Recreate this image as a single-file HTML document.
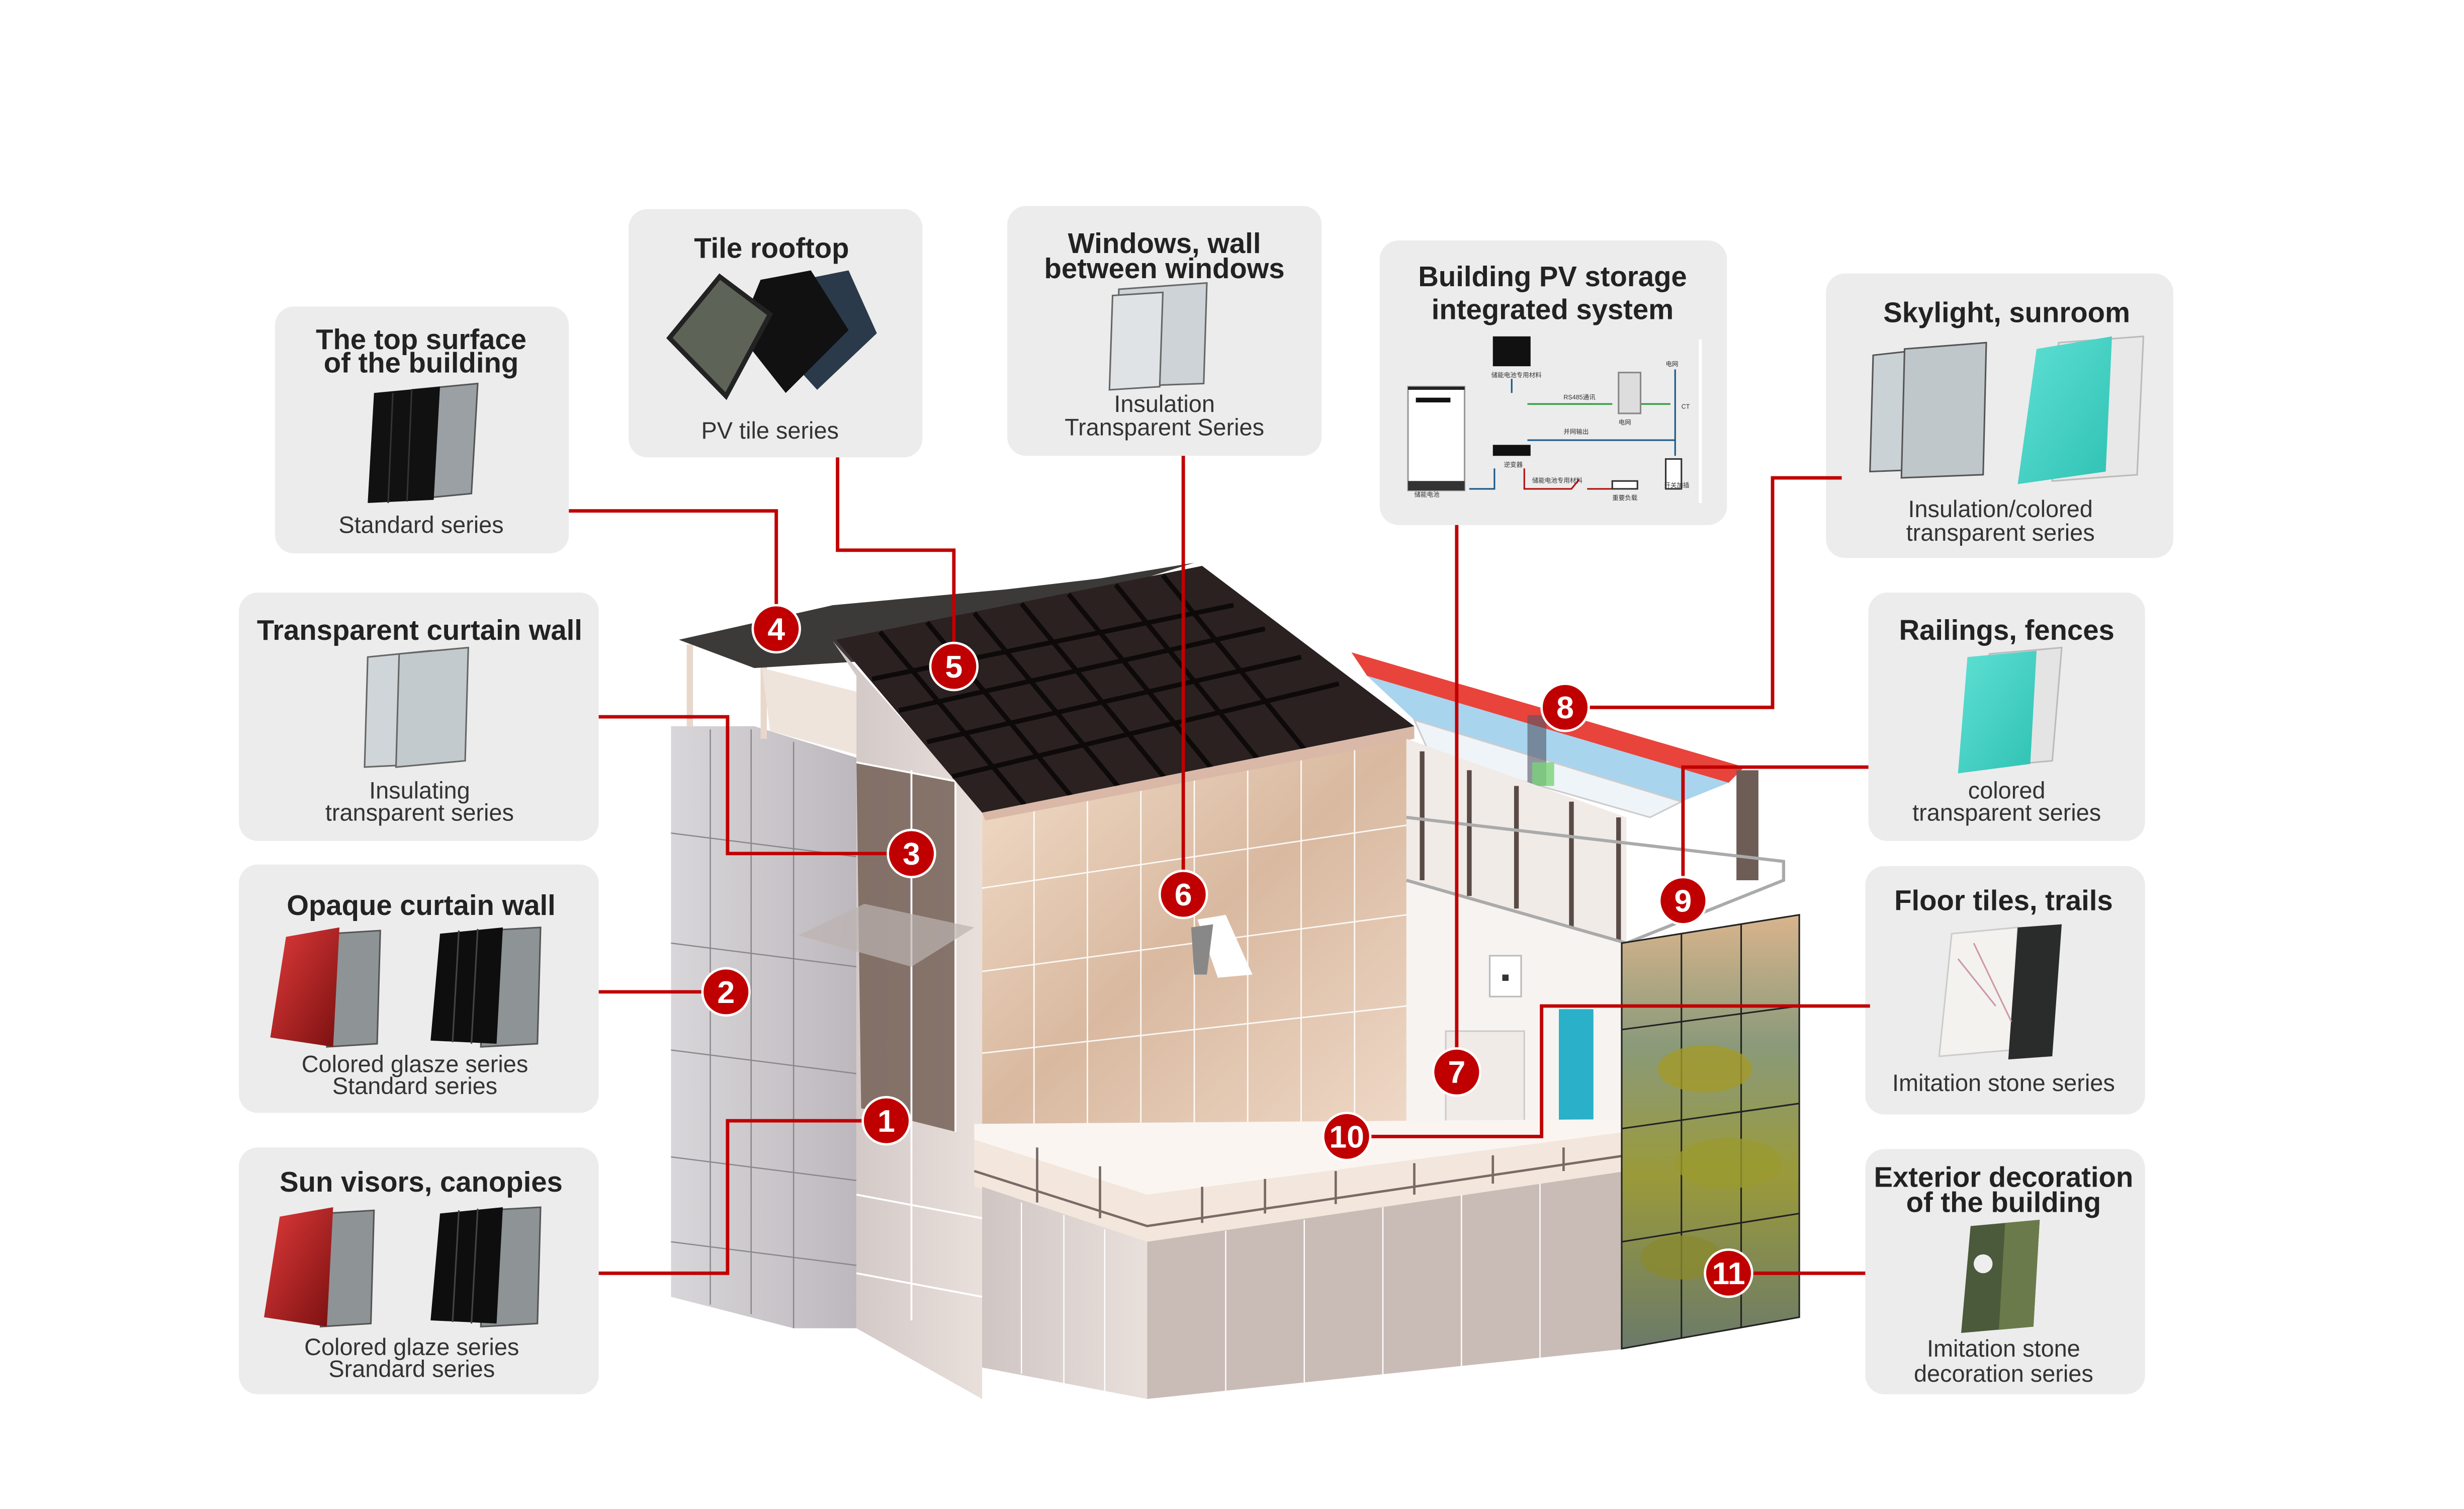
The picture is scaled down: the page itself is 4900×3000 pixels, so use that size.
<!DOCTYPE html>
<html><head><meta charset="utf-8"><style>
html,body{margin:0;padding:0;background:#fff;}
svg{display:block;}
text{font-family:"Liberation Sans","Noto Sans CJK SC",sans-serif;}
</style></head><body>
<svg width="4900" height="3000" viewBox="0 0 1568 960" xmlns="http://www.w3.org/2000/svg">
<defs>
<linearGradient id="wall" x1="0" y1="0" x2="1" y2="1"><stop offset="0" stop-color="#f2ddc9"/><stop offset="0.5" stop-color="#d9b9a0"/><stop offset="1" stop-color="#eed8c6"/></linearGradient>
<linearGradient id="tower" x1="0" y1="0" x2="1" y2="0"><stop offset="0" stop-color="#d8d6d9"/><stop offset="1" stop-color="#bdb8bd"/></linearGradient>
<linearGradient id="glass" x1="0" y1="0" x2="1" y2="0"><stop offset="0" stop-color="#cfc5c3"/><stop offset="1" stop-color="#e9dfdb"/></linearGradient>
<linearGradient id="red" x1="0" y1="0" x2="1" y2="1"><stop offset="0" stop-color="#e03a3a"/><stop offset="1" stop-color="#7a1010"/></linearGradient>
<linearGradient id="teal" x1="0" y1="0" x2="1" y2="1"><stop offset="0" stop-color="#5fe0d4"/><stop offset="1" stop-color="#2fc2b4"/></linearGradient>
<linearGradient id="paint" x1="0" y1="0" x2="0" y2="1"><stop offset="0" stop-color="#d9b48c"/><stop offset="0.3" stop-color="#8a9a7a"/><stop offset="0.6" stop-color="#9a9a3a"/><stop offset="1" stop-color="#6b7a6a"/></linearGradient>
</defs>

<!-- BOXES -->
<g fill="#ececec">
<rect x="175" y="195" width="187" height="157" rx="12"/>
<rect x="400" y="133" width="187" height="158" rx="12"/>
<rect x="641" y="131" width="200" height="159" rx="12"/>
<rect x="878" y="153" width="221" height="181" rx="12"/>
<rect x="1162" y="174" width="221" height="181" rx="12"/>
<rect x="152" y="377" width="229" height="158" rx="12"/>
<rect x="152" y="550" width="229" height="158" rx="12"/>
<rect x="152" y="730" width="229" height="157" rx="12"/>
<rect x="1189" y="377" width="176" height="158" rx="12"/>
<rect x="1187" y="551" width="178" height="158" rx="12"/>
<rect x="1187" y="731" width="178" height="156" rx="12"/>
</g>

<g fill="#222" font-size="18" font-weight="bold" text-anchor="middle">
<text x="268" y="222">The top surface</text>
<text x="268" y="237">of the building</text>
<text x="491" y="164">Tile rooftop</text>
<text x="741" y="161">Windows, wall</text>
<text x="741" y="177">between windows</text>
<text x="988" y="182">Building PV storage</text>
<text x="988" y="203">integrated system</text>
<text x="1277" y="205">Skylight, sunroom</text>
<text x="267" y="407">Transparent curtain wall</text>
<text x="268" y="582">Opaque curtain wall</text>
<text x="268" y="758">Sun visors, canopies</text>
<text x="1277" y="407">Railings, fences</text>
<text x="1275" y="579">Floor tiles, trails</text>
<text x="1275" y="755">Exterior decoration</text>
<text x="1275" y="771">of the building</text>
</g>
<g fill="#333" font-size="15" text-anchor="middle">
<text x="268" y="339">Standard series</text>
<text x="490" y="279">PV tile series</text>
<text x="741" y="262">Insulation</text>
<text x="741" y="277">Transparent Series</text>
<text x="1273" y="329">Insulation/colored</text>
<text x="1273" y="344">transparent series</text>
<text x="267" y="508">Insulating</text>
<text x="267" y="522">transparent series</text>
<text x="264" y="682">Colored glasze series</text>
<text x="264" y="696">Standard series</text>
<text x="262" y="862">Colored glaze series</text>
<text x="262" y="876">Srandard series</text>
<text x="1277" y="508">colored</text>
<text x="1277" y="522">transparent series</text>
<text x="1275" y="694">Imitation stone series</text>
<text x="1275" y="863">Imitation stone</text>
<text x="1275" y="879">decoration series</text>
</g>

<!-- thumbnails -->
<!-- top surface: black panels -->
<g>
<polygon points="262,248 304,244 300,314 258,318" fill="#9aa0a4" stroke="#555"/>
<polygon points="238,250 280,246 276,318 234,320" fill="#111"/>
<line x1="250" y1="250" x2="247" y2="320" stroke="#333"/><line x1="262" y1="248" x2="259" y2="319" stroke="#333"/>
</g>
<!-- tile rooftop -->
<g>
<polygon points="500,180 540,172 558,212 520,248 500,226" fill="#2a3a4a"/>
<polygon points="484,178 516,172 540,210 500,250 470,212" fill="#111"/>
<polygon points="458,176 490,200 462,252 426,215" fill="#5e6358" stroke="#222" stroke-width="3"/>
</g>
<!-- windows glass -->
<g fill="#cdd3d6" stroke="#666">
<polygon points="712,184 768,180 766,244 710,246"/>
<polygon points="708,188 740,186 738,246 706,248" fill="#dfe3e5"/>
</g>
<!-- PV storage diagram -->
<g font-size="4" fill="#333">
<rect x="896" y="246" width="36" height="66" fill="#fff" stroke="#999"/>
<rect x="896" y="246" width="36" height="2" fill="#222"/>
<rect x="901" y="253" width="22" height="3" fill="#111"/>
<rect x="896" y="306" width="36" height="6" fill="#333"/>
<rect x="950" y="214" width="24" height="19" fill="#111"/>
<rect x="950" y="283" width="24" height="7" fill="#111"/>
<line x1="962" y1="241" x2="962" y2="250" stroke="#1a5a8a"/>
<line x1="972" y1="257" x2="1026" y2="257" stroke="#2a9a3a"/>
<line x1="1040" y1="257" x2="1063" y2="257" stroke="#2a9a3a"/>
<line x1="972" y1="280" x2="1066" y2="280" stroke="#1a5a8a"/>
<line x1="1066" y1="235" x2="1066" y2="290" stroke="#1a5a8a"/>
<polyline points="935,311 951,311 951,298" fill="none" stroke="#1a5a8a"/>
<polyline points="970,298 970,311 1000,311 1005,305" fill="none" stroke="#b01010"/>
<line x1="1010" y1="311" x2="1026" y2="311" stroke="#b01010"/>
<rect x="1030" y="237" width="14" height="26" fill="#ddd" stroke="#888"/>
<rect x="1060" y="292" width="10" height="19" fill="#fff" stroke="#333"/>
<rect x="1026" y="306" width="16" height="5" fill="#fff" stroke="#333"/>
<line x1="1082" y1="216" x2="1082" y2="320" stroke="#fff" stroke-width="2"/>
<text x="949" y="240">储能电池专用材料</text>
<text x="995" y="254">RS485通讯</text>
<text x="995" y="276">并网输出</text>
<text x="957" y="297">逆变器</text>
<text x="1030" y="270">电网</text>
<text x="1060" y="233">电网</text>
<text x="975" y="307">储能电池专用材料</text>
<text x="900" y="316">储能电池</text>
<text x="1026" y="318">重要负载</text>
<text x="1059" y="310">开关加插</text>
<text x="1070" y="260">CT</text>
</g>
<!-- skylight -->
<g>
<polygon points="1192,226 1246,220 1244,298 1190,300" fill="#cbd2d5" stroke="#555"/>
<polygon points="1212,222 1264,218 1262,302 1210,304" fill="#bfc7ca" stroke="#555"/>
<polygon points="1310,218 1364,214 1360,302 1306,306" fill="#e8e8e8" stroke="#bbb"/>
<polygon points="1296,222 1344,214 1340,300 1284,308" fill="url(#teal)"/>
</g>
<!-- transparent curtain wall -->
<g stroke="#666">
<polygon points="234,418 274,414 272,486 232,488" fill="#cfd5d8"/>
<polygon points="254,416 298,412 296,484 252,488" fill="#c3cacd"/>
</g>
<!-- opaque curtain wall -->
<g>
<polygon points="210,594 242,592 240,664 208,666" fill="#8e9396" stroke="#555"/>
<polygon points="182,596 216,590 212,666 172,660" fill="url(#red)"/>
<polygon points="308,592 344,590 342,664 306,666" fill="#8e9396" stroke="#555"/>
<polygon points="280,594 320,590 316,664 274,662" fill="#0e0e0e"/>
<line x1="292" y1="592" x2="288" y2="663" stroke="#444"/><line x1="304" y1="591" x2="300" y2="664" stroke="#444"/>
</g>
<!-- sun visors -->
<g>
<polygon points="206,772 238,770 236,842 204,844" fill="#8e9396" stroke="#555"/>
<polygon points="178,774 212,768 208,844 168,838" fill="url(#red)"/>
<polygon points="308,770 344,768 342,842 306,844" fill="#8e9396" stroke="#555"/>
<polygon points="280,772 320,768 316,842 274,840" fill="#0e0e0e"/>
<line x1="292" y1="770" x2="288" y2="841" stroke="#444"/><line x1="304" y1="769" x2="300" y2="842" stroke="#444"/>
</g>
<!-- railings -->
<g>
<polygon points="1266,416 1312,412 1306,484 1262,488" fill="#e4e4e4" stroke="#bbb"/>
<polygon points="1252,418 1296,414 1292,486 1246,492" fill="url(#teal)"/>
</g>
<!-- floor tiles -->
<g>
<polygon points="1242,594 1284,590 1280,668 1234,672" fill="#f4f2ee" stroke="#ccc"/>
<polygon points="1284,590 1312,588 1306,672 1278,674" fill="#2a2c2c"/>
<path d="M1246,610 L1270,640 M1256,600 L1280,650" stroke="#c9a" fill="none"/>
</g>
<!-- exterior decoration -->
<g>
<polygon points="1254,780 1298,776 1294,844 1248,848" fill="#4a5a3a"/>
<polygon points="1276,778 1298,776 1294,844 1272,846" fill="#6a7a4a"/>
<circle cx="1262" cy="804" r="6" fill="#eee"/>
</g>

<!-- BUILDING -->
<!-- left tower -->
<polygon points="427,462 480,462 545,482 545,845 505,845 427,825" fill="url(#tower)"/>
<g stroke="#8a888c" stroke-width="0.8" fill="none">
<line x1="452" y1="464" x2="452" y2="830"/><line x1="478" y1="464" x2="478" y2="836"/><line x1="505" y1="472" x2="505" y2="845"/>
<line x1="427" y1="530" x2="545" y2="545"/><line x1="427" y1="600" x2="545" y2="615"/><line x1="427" y1="668" x2="545" y2="683"/><line x1="427" y1="736" x2="545" y2="751"/><line x1="427" y1="790" x2="545" y2="805"/>
</g>
<!-- posts and overhang -->
<rect x="437" y="410" width="4" height="52" fill="#e8d8cc"/>
<rect x="484" y="415" width="4" height="55" fill="#e8d8cc"/>
<polygon points="432,407 530,385 640,375 700,368 760,358 560,420 480,425" fill="#3c3a38"/>
<polygon points="485,425 545,440 545,480 490,465" fill="#efe4dc"/>
<!-- left gable wall glass -->
<polygon points="530,408 625,515 625,890 545,845 545,430" fill="url(#glass)"/>
<polygon points="545,485 608,497 608,720 548,705" fill="#6e5a50" opacity="0.8"/>
<g stroke="#fff" stroke-width="1.2" fill="none">
<polyline points="545,485 608,497 608,720"/>
<line x1="580" y1="490" x2="580" y2="840"/>
<line x1="545" y1="760" x2="625" y2="775"/><line x1="545" y1="810" x2="625" y2="825"/>
</g>
<polygon points="508,595 550,575 620,590 580,615" fill="#bcb3b0" opacity="0.7"/>
<!-- front wall -->
<polygon points="625,515 895,470 895,715 625,715" fill="url(#wall)"/>
<g stroke="#fff" stroke-width="0.9" fill="none" opacity="0.9">
<line x1="658" y1="510" x2="658" y2="715"/><line x1="692" y1="505" x2="692" y2="715"/><line x1="726" y1="499" x2="726" y2="715"/><line x1="760" y1="493" x2="760" y2="715"/><line x1="794" y1="487" x2="794" y2="715"/><line x1="828" y1="481" x2="828" y2="715"/><line x1="862" y1="476" x2="862" y2="715"/>
<line x1="625" y1="565" x2="895" y2="525"/><line x1="625" y1="618" x2="895" y2="582"/><line x1="625" y1="670" x2="895" y2="640"/>
</g>
<polygon points="762,585 780,582 797,620 775,622" fill="#fff"/>
<polygon points="758,590 772,588 768,620 760,620" fill="#888"/>
<!-- main roof -->
<polygon points="532,407 765,360 900,462 625,517" fill="#2a2120"/>
<g stroke="#0e0a0a" stroke-width="3" fill="none">
<line x1="560" y1="402" x2="652" y2="512"/><line x1="590" y1="396" x2="682" y2="507"/><line x1="620" y1="390" x2="712" y2="501"/><line x1="650" y1="384" x2="742" y2="496"/><line x1="680" y1="378" x2="772" y2="490"/><line x1="710" y1="372" x2="802" y2="485"/><line x1="740" y1="366" x2="832" y2="479"/>
<line x1="555" y1="432" x2="785" y2="385"/><line x1="572" y1="452" x2="805" y2="400"/><line x1="590" y1="472" x2="828" y2="418"/><line x1="606" y1="494" x2="852" y2="435"/>
</g>
<polygon points="625,517 900,462 900,470 627,522" fill="#d9b8a8"/>
<!-- skylight strip -->
<polygon points="860,415 1110,488 1100,498 870,430" fill="#e8443c"/>
<polygon points="870,430 1100,498 1070,510 900,458" fill="#a8d4ee"/>
<polygon points="900,458 1070,510 1050,520 910,480" fill="#eef4f8" stroke="#ccc"/>
<rect x="972" y="455" width="12" height="45" fill="#556" opacity="0.6"/>
<rect x="975" y="485" width="14" height="15" fill="#7ad27a" opacity="0.8"/>
<!-- right room -->
<polygon points="895,470 1035,520 1035,720 895,715" fill="#f1ebe7"/>
<polygon points="895,560 1035,600 1035,720 895,715" fill="#f7f3f0"/>
<g stroke="#5a4a46" stroke-width="3">
<line x1="905" y1="478" x2="905" y2="560"/><line x1="935" y1="490" x2="935" y2="570"/><line x1="965" y1="500" x2="965" y2="578"/><line x1="1000" y1="510" x2="1000" y2="590"/><line x1="1030" y1="520" x2="1030" y2="598"/>
</g>
<rect x="1105" y="490" width="14" height="70" fill="#6e5c56"/>
<polyline points="895,520 1135,548 1135,560 1035,600 895,560" fill="none" stroke="#aaa" stroke-width="2"/>
<rect x="948" y="608" width="20" height="26" fill="#fff" stroke="#bbb"/>
<rect x="956" y="620" width="4" height="4" fill="#333"/>
<rect x="920" y="656" width="50" height="62" fill="#f0ebe6" stroke="#ccc"/>
<rect x="992" y="642" width="22" height="100" fill="#2ab0c8"/>
<!-- balcony -->
<polygon points="620,715 1035,712 1035,745 730,790 620,755" fill="#f3e6dc"/>
<polygon points="620,715 1035,712 1035,720 730,760 620,725" fill="#fff" opacity="0.6"/>
<g stroke="#7a6a66" stroke-width="1.5" fill="none">
<polyline points="620,745 730,780 1035,735"/>
<line x1="660" y1="730" x2="660" y2="765"/><line x1="700" y1="742" x2="700" y2="775"/><line x1="765" y1="755" x2="765" y2="778"/><line x1="805" y1="750" x2="805" y2="772"/><line x1="850" y1="745" x2="850" y2="766"/><line x1="900" y1="740" x2="900" y2="760"/><line x1="950" y1="735" x2="950" y2="753"/><line x1="995" y1="730" x2="995" y2="745"/>
</g>
<!-- lower glass -->
<polygon points="625,755 730,790 730,890 625,870" fill="url(#glass)"/>
<polygon points="730,790 1035,745 1035,858 730,890" fill="#c9bcb6"/>
<g stroke="#fff" stroke-width="0.8">
<line x1="650" y1="765" x2="650" y2="874"/><line x1="677" y1="773" x2="677" y2="880"/><line x1="703" y1="782" x2="703" y2="885"/>
<line x1="780" y1="783" x2="780" y2="885"/><line x1="830" y1="776" x2="830" y2="880"/><line x1="880" y1="768" x2="880" y2="875"/><line x1="930" y1="760" x2="930" y2="870"/><line x1="980" y1="753" x2="980" y2="864"/>
</g>
<!-- painted panel -->
<polygon points="1032,600 1145,582 1145,838 1032,858" fill="url(#paint)"/>
<g stroke="#222" stroke-width="1" fill="none">
<polygon points="1032,600 1145,582 1145,838 1032,858"/>
<line x1="1070" y1="594" x2="1070" y2="851"/><line x1="1108" y1="588" x2="1108" y2="845"/>
<line x1="1032" y1="655" x2="1145" y2="640"/><line x1="1032" y1="718" x2="1145" y2="702"/><line x1="1032" y1="790" x2="1145" y2="772"/>
</g>
<ellipse cx="1085" cy="680" rx="30" ry="15" fill="#a49a2a" opacity="0.8"/>
<ellipse cx="1100" cy="740" rx="34" ry="16" fill="#9a9a30" opacity="0.8"/>
<ellipse cx="1070" cy="800" rx="26" ry="14" fill="#8a8a30" opacity="0.8"/>

<!-- CONNECTORS -->
<g stroke="#c00000" stroke-width="2.2" fill="none">
<polyline points="362,325 494,325 494,400"/>
<polyline points="533,291 533,350 607,350 607,424"/>
<polyline points="753,290 753,569"/>
<polyline points="927,334 927,682"/>
<polyline points="1172,304 1128,304 1128,450 996,450"/>
<polyline points="1189,488 1071,488 1071,573"/>
<polyline points="1190,640 981,640 981,723 857,723"/>
<polyline points="1187,810 1100,810"/>
<polyline points="381,456 463,456 463,543 580,543"/>
<polyline points="381,631 462,631"/>
<polyline points="381,810 463,810 463,713 564,713"/>
</g>
<g fill="#c00000" stroke="#fff" stroke-width="1.5">
<circle cx="564" cy="713" r="15"/><circle cx="462" cy="631" r="15"/><circle cx="580" cy="543" r="15"/>
<circle cx="494" cy="400" r="15"/><circle cx="607" cy="424" r="15"/><circle cx="753" cy="569" r="15"/>
<circle cx="927" cy="682" r="15"/><circle cx="996" cy="450" r="15"/><circle cx="1071" cy="573" r="15"/>
<circle cx="857" cy="723" r="15"/><circle cx="1100" cy="810" r="15"/>
</g>
<g fill="#fff" font-size="20" font-weight="bold" text-anchor="middle">
<text x="564" y="720">1</text><text x="462" y="638">2</text><text x="580" y="550">3</text>
<text x="494" y="407">4</text><text x="607" y="431">5</text><text x="753" y="576">6</text>
<text x="927" y="689">7</text><text x="996" y="457">8</text><text x="1071" y="580">9</text>
<text x="857" y="730">10</text><text x="1100" y="817">11</text>
</g>
</svg>
</body></html>
